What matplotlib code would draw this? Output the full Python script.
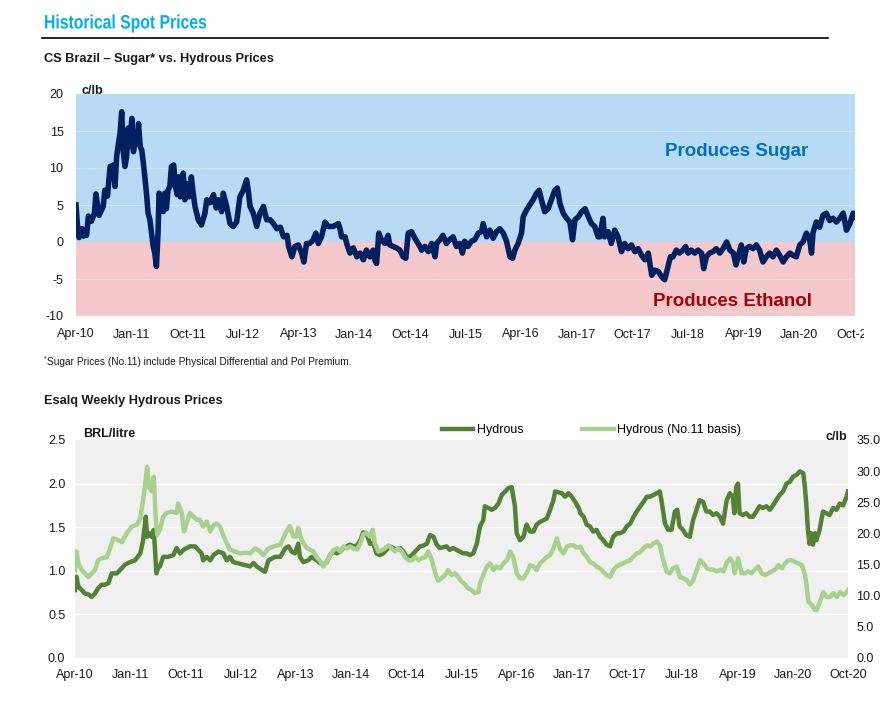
import matplotlib
matplotlib.use("Agg")
import matplotlib.pyplot as plt
import matplotlib.patheffects as pe
import pandas as pd
from matplotlib.lines import Line2D
from matplotlib.transforms import Affine2D, Bbox, TransformedBbox

plt.rcParams['font.family'] = ['Liberation Sans', 'DejaVu Sans']

# CS Brazil sugar premium over hydrous, c/lb
sugar = [
    ("2010-04-01", 5.0), ("2010-04-08", 2.3), ("2010-04-16", 0.6), ("2010-05-01", 1.8),
    ("2010-05-08", 0.8), ("2010-05-16", 1.2), ("2010-05-23", 0.9), ("2010-06-01", 3.5),
    ("2010-06-16", 2.8), ("2010-07-01", 3.9), ("2010-07-08", 6.5), ("2010-07-24", 3.6),
    ("2010-08-13", 4.8), ("2010-08-21", 7.0), ("2010-09-03", 6.2), ("2010-09-16", 10.2),
    ("2010-10-02", 10.4), ("2010-10-10", 7.5), ("2010-10-18", 11.5), ("2010-10-26", 13.1),
    ("2010-11-04", 14.7), ("2010-11-12", 17.6), ("2010-11-20", 12.2), ("2010-11-28", 10.2),
    ("2010-12-06", 11.5), ("2010-12-14", 15.4), ("2010-12-22", 12.9), ("2011-01-01", 16.7),
    ("2011-01-09", 12.2), ("2011-01-17", 13.8), ("2011-01-25", 13.3), ("2011-02-03", 16.0),
    ("2011-02-11", 12.9), ("2011-02-19", 12.4), ("2011-02-27", 10.6), ("2011-03-06", 8.8),
    ("2011-03-14", 6.6), ("2011-03-22", 3.9), ("2011-03-31", 3.0), ("2011-04-08", 1.2),
    ("2011-04-16", -0.6), ("2011-04-24", -1.5), ("2011-05-02", -3.3), ("2011-05-10", 1.2),
    ("2011-05-15", 6.6), ("2011-05-26", 5.7), ("2011-06-04", 4.1), ("2011-06-12", 6.6),
    ("2011-06-20", 4.5), ("2011-06-28", 7.0), ("2011-07-07", 7.5), ("2011-07-15", 10.2),
    ("2011-07-26", 10.4), ("2011-08-04", 7.5), ("2011-08-12", 6.4), ("2011-08-20", 8.8),
    ("2011-08-28", 6.1), ("2011-09-11", 9.3), ("2011-09-19", 5.7), ("2011-09-27", 7.9),
    ("2011-10-10", 6.1), ("2011-10-21", 8.8), ("2011-10-30", 6.6), ("2011-11-08", 4.8),
    ("2011-11-24", 3.0), ("2011-12-10", 2.3), ("2011-12-27", 3.9), ("2012-01-05", 5.7),
    ("2012-01-21", 5.3), ("2012-02-07", 6.4), ("2012-02-20", 4.6), ("2012-03-01", 5.7),
    ("2012-03-18", 4.1), ("2012-03-26", 6.6), ("2012-04-12", 4.8), ("2012-04-28", 2.5),
    ("2012-05-14", 2.1), ("2012-05-31", 2.7), ("2012-06-16", 6.1), ("2012-07-03", 7.0),
    ("2012-07-19", 8.4), ("2012-07-27", 7.0), ("2012-08-05", 4.8), ("2012-08-21", 3.9),
    ("2012-09-07", 2.1), ("2012-09-23", 3.9), ("2012-10-10", 4.8), ("2012-10-26", 3.0),
    ("2012-11-12", 3.0), ("2012-11-28", 2.5), ("2012-12-15", 1.8), ("2013-01-01", 2.0),
    ("2013-01-17", 0.7), ("2013-02-03", 0.9), ("2013-02-11", -0.6), ("2013-02-27", -2.0),
    ("2013-03-14", -0.6), ("2013-03-31", -0.4), ("2013-04-16", -1.5), ("2013-04-27", -2.7),
    ("2013-05-10", -0.2), ("2013-05-26", -0.2), ("2013-06-12", 0.3), ("2013-06-25", 1.2),
    ("2013-07-07", -0.2), ("2013-07-23", 0.7), ("2013-08-09", 2.7), ("2013-08-25", 2.1),
    ("2013-09-03", 2.1), ("2013-09-19", 2.1), ("2013-10-14", 2.5), ("2013-10-22", 1.8),
    ("2013-10-30", 0.7), ("2013-11-16", 0.7), ("2013-11-24", -0.2), ("2013-12-10", -1.5),
    ("2013-12-27", -0.8), ("2014-01-13", -2.0), ("2014-01-29", -1.5), ("2014-02-14", -2.4),
    ("2014-03-01", -1.1), ("2014-03-18", -2.0), ("2014-04-03", -1.1), ("2014-04-11", -2.4),
    ("2014-04-20", -2.9), ("2014-05-01", 1.2), ("2014-05-14", 0.3), ("2014-05-31", -0.2),
    ("2014-06-16", 0.9), ("2014-06-24", -0.4), ("2014-07-10", -0.6), ("2014-07-27", -0.8),
    ("2014-08-13", -1.1), ("2014-08-29", -2.0), ("2014-09-11", -2.2), ("2014-09-23", 1.2),
    ("2014-10-09", 1.4), ("2014-10-26", 0.5), ("2014-11-11", -0.2), ("2014-11-28", -1.1),
    ("2014-12-14", -0.6), ("2014-12-31", -1.3), ("2015-01-16", -0.2), ("2015-02-02", -2.0),
    ("2015-02-10", -0.2), ("2015-02-26", 0.3), ("2015-03-13", 0.9), ("2015-03-30", -0.2),
    ("2015-04-15", 0.3), ("2015-05-02", 0.7), ("2015-05-18", -0.6), ("2015-06-04", -0.2),
    ("2015-06-17", -1.5), ("2015-06-28", 0.1), ("2015-07-14", -0.6), ("2015-07-31", 0.1),
    ("2015-08-16", 0.3), ("2015-09-03", 1.2), ("2015-09-19", 1.4), ("2015-09-27", 2.5),
    ("2015-10-14", 0.7), ("2015-10-30", 1.6), ("2015-11-15", 0.5), ("2015-12-02", 1.4),
    ("2015-12-18", 1.8), ("2016-01-04", 1.2), ("2016-01-20", 0.1), ("2016-02-06", -2.0),
    ("2016-02-19", -2.2), ("2016-03-01", -1.1), ("2016-03-17", -0.2), ("2016-04-03", 1.2),
    ("2016-04-11", 3.4), ("2016-04-27", 4.3), ("2016-05-13", 5.0), ("2016-05-30", 5.7),
    ("2016-06-16", 6.6), ("2016-06-29", 7.0), ("2016-07-10", 5.7), ("2016-07-26", 4.1),
    ("2016-08-12", 4.5), ("2016-08-28", 5.7), ("2016-09-14", 7.0), ("2016-09-26", 7.3),
    ("2016-10-09", 5.2), ("2016-10-25", 3.9), ("2016-11-11", 3.2), ("2016-11-27", 2.7),
    ("2016-12-10", 0.3), ("2016-12-22", 3.0), ("2017-01-08", 3.4), ("2017-01-24", 4.1),
    ("2017-02-10", 4.5), ("2017-02-26", 3.4), ("2017-03-13", 2.5), ("2017-03-29", 2.1),
    ("2017-04-15", 0.7), ("2017-04-23", 0.7), ("2017-05-09", 3.2), ("2017-05-17", 0.7),
    ("2017-06-03", 1.4), ("2017-06-19", -0.2), ("2017-07-06", 1.6), ("2017-07-22", 0.7),
    ("2017-08-08", -1.3), ("2017-08-24", -0.2), ("2017-09-10", -0.9), ("2017-09-26", -0.4),
    ("2017-10-13", -1.3), ("2017-10-29", -0.9), ("2017-11-15", -1.8), ("2017-12-01", -2.4),
    ("2017-12-18", -1.5), ("2018-01-04", -4.5), ("2018-01-20", -3.8), ("2018-02-06", -4.0),
    ("2018-02-22", -4.7), ("2018-03-09", -5.1), ("2018-03-25", -3.3), ("2018-04-06", -2.0),
    ("2018-04-19", -2.0), ("2018-05-05", -1.1), ("2018-05-21", -1.5), ("2018-06-07", -1.1),
    ("2018-06-20", -0.6), ("2018-07-02", -1.5), ("2018-07-18", -1.1), ("2018-08-04", -1.5),
    ("2018-08-20", -1.1), ("2018-09-06", -1.5), ("2018-09-17", -3.6), ("2018-09-30", -2.0),
    ("2018-10-16", -1.5), ("2018-11-02", -1.3), ("2018-11-18", -0.9), ("2018-12-05", -1.5),
    ("2018-12-21", -0.9), ("2019-01-08", 0.0), ("2019-01-24", -1.1), ("2019-02-10", -1.5),
    ("2019-02-23", -3.1), ("2019-03-05", -2.0), ("2019-03-21", -0.4), ("2019-04-02", -2.7),
    ("2019-04-15", -0.9), ("2019-05-01", -0.6), ("2019-05-17", -0.9), ("2019-06-03", -0.4),
    ("2019-06-19", -1.1), ("2019-07-06", -2.7), ("2019-07-22", -2.0), ("2019-08-08", -1.5),
    ("2019-08-24", -2.0), ("2019-09-10", -1.1), ("2019-09-26", -1.8), ("2019-10-13", -2.7),
    ("2019-10-29", -2.0), ("2019-11-15", -1.5), ("2019-12-01", -1.8), ("2019-12-17", -2.0),
    ("2020-01-03", -0.4), ("2020-01-19", 0.0), ("2020-02-05", 1.2), ("2020-02-21", 0.3),
    ("2020-03-01", -1.5), ("2020-03-08", 1.2), ("2020-03-24", 2.7), ("2020-04-10", 2.0),
    ("2020-04-26", 3.6), ("2020-05-13", 3.9), ("2020-05-29", 2.9), ("2020-06-15", 3.2),
    ("2020-07-01", 2.7), ("2020-07-18", 3.2), ("2020-08-04", 3.9), ("2020-08-20", 1.6),
    ("2020-09-06", 2.5), ("2020-09-22", 3.9), ("2020-09-30", 3.4),
]

# Esalq weekly hydrous, BRL/litre
hydrous = [
    ("2010-04-01", 0.78), ("2010-04-09", 0.93), ("2010-04-17", 0.82), ("2010-05-04", 0.78),
    ("2010-05-20", 0.74), ("2010-06-06", 0.73), ("2010-06-23", 0.70), ("2010-07-09", 0.74),
    ("2010-07-25", 0.80), ("2010-08-11", 0.84), ("2010-08-28", 0.84), ("2010-09-14", 0.86),
    ("2010-09-30", 0.97), ("2010-10-25", 0.97), ("2010-11-11", 1.01), ("2010-12-05", 1.07),
    ("2010-12-30", 1.10), ("2011-01-24", 1.12), ("2011-02-19", 1.20), ("2011-03-05", 1.35),
    ("2011-03-18", 1.62), ("2011-03-25", 1.39), ("2011-04-08", 1.43), ("2011-04-16", 1.39),
    ("2011-04-27", 1.47), ("2011-05-10", 0.97), ("2011-05-18", 1.03), ("2011-05-27", 1.05),
    ("2011-06-13", 1.16), ("2011-07-07", 1.16), ("2011-08-02", 1.18), ("2011-08-18", 1.26),
    ("2011-09-05", 1.20), ("2011-09-21", 1.24), ("2011-10-07", 1.26), ("2011-10-23", 1.28),
    ("2011-11-18", 1.28), ("2011-12-04", 1.24), ("2011-12-20", 1.20), ("2011-12-28", 1.12),
    ("2012-01-15", 1.16), ("2012-02-01", 1.12), ("2012-02-17", 1.18), ("2012-03-12", 1.22),
    ("2012-04-06", 1.20), ("2012-04-23", 1.12), ("2012-05-09", 1.16), ("2012-05-25", 1.10),
    ("2012-06-12", 1.09), ("2012-07-14", 1.07), ("2012-08-17", 1.05), ("2012-09-03", 1.09),
    ("2012-09-19", 1.05), ("2012-10-14", 1.01), ("2012-10-30", 0.99), ("2012-11-16", 1.12),
    ("2012-12-19", 1.16), ("2013-01-14", 1.16), ("2013-02-08", 1.26), ("2013-02-24", 1.28),
    ("2013-03-11", 1.22), ("2013-03-27", 1.20), ("2013-04-13", 1.31), ("2013-04-21", 1.16),
    ("2013-05-08", 1.10), ("2013-06-02", 1.12), ("2013-06-18", 1.16), ("2013-07-13", 1.12),
    ("2013-07-29", 1.09), ("2013-08-16", 1.07), ("2013-09-02", 1.10), ("2013-09-18", 1.18),
    ("2013-10-05", 1.22), ("2013-10-21", 1.20), ("2013-11-07", 1.22), ("2013-11-23", 1.26),
    ("2013-12-10", 1.28), ("2013-12-26", 1.30), ("2014-01-12", 1.28), ("2014-01-29", 1.29),
    ("2014-02-15", 1.35), ("2014-03-01", 1.44), ("2014-03-17", 1.43), ("2014-04-04", 1.31),
    ("2014-04-20", 1.32), ("2014-05-06", 1.20), ("2014-05-23", 1.18), ("2014-06-09", 1.20),
    ("2014-06-25", 1.24), ("2014-07-12", 1.28), ("2014-07-28", 1.26), ("2014-08-14", 1.24),
    ("2014-08-31", 1.26), ("2014-09-17", 1.22), ("2014-10-03", 1.16), ("2014-10-19", 1.16),
    ("2014-11-06", 1.20), ("2014-11-22", 1.24), ("2014-12-08", 1.28), ("2014-12-25", 1.29),
    ("2015-01-11", 1.31), ("2015-01-27", 1.41), ("2015-02-13", 1.39), ("2015-03-01", 1.30),
    ("2015-03-16", 1.26), ("2015-04-19", 1.28), ("2015-05-05", 1.24), ("2015-05-21", 1.26),
    ("2015-06-08", 1.24), ("2015-06-24", 1.22), ("2015-07-10", 1.20), ("2015-07-27", 1.20),
    ("2015-08-13", 1.18), ("2015-08-29", 1.20), ("2015-09-16", 1.31), ("2015-10-02", 1.51),
    ("2015-10-18", 1.58), ("2015-10-26", 1.74), ("2015-11-12", 1.72), ("2015-11-29", 1.70),
    ("2015-12-15", 1.72), ("2016-01-01", 1.77), ("2016-01-18", 1.87), ("2016-02-04", 1.91),
    ("2016-02-20", 1.95), ("2016-03-07", 1.96), ("2016-03-23", 1.74), ("2016-04-01", 1.43),
    ("2016-04-17", 1.35), ("2016-05-04", 1.39), ("2016-05-20", 1.53), ("2016-06-06", 1.45),
    ("2016-06-23", 1.45), ("2016-07-09", 1.53), ("2016-07-25", 1.56), ("2016-08-12", 1.58),
    ("2016-08-28", 1.60), ("2016-09-14", 1.70), ("2016-09-30", 1.81), ("2016-10-09", 1.91),
    ("2016-10-25", 1.90), ("2016-11-11", 1.89), ("2016-11-27", 1.85), ("2016-12-14", 1.89),
    ("2016-12-30", 1.85), ("2017-01-16", 1.79), ("2017-02-03", 1.72), ("2017-02-11", 1.66),
    ("2017-02-27", 1.62), ("2017-03-14", 1.53), ("2017-03-30", 1.51), ("2017-04-16", 1.45),
    ("2017-05-02", 1.47), ("2017-05-19", 1.39), ("2017-06-05", 1.35), ("2017-06-21", 1.30),
    ("2017-07-08", 1.28), ("2017-07-24", 1.39), ("2017-08-10", 1.43), ("2017-08-26", 1.43),
    ("2017-09-13", 1.45), ("2017-09-29", 1.51), ("2017-10-16", 1.54), ("2017-11-02", 1.62),
    ("2017-11-18", 1.68), ("2017-12-05", 1.74), ("2017-12-21", 1.79), ("2018-01-07", 1.85),
    ("2018-01-23", 1.85), ("2018-02-09", 1.87), ("2018-02-26", 1.89), ("2018-03-12", 1.91),
    ("2018-03-20", 1.81), ("2018-04-07", 1.54), ("2018-04-23", 1.47), ("2018-05-09", 1.47),
    ("2018-05-26", 1.68), ("2018-06-07", 1.70), ("2018-06-18", 1.51), ("2018-07-05", 1.47),
    ("2018-07-21", 1.41), ("2018-08-08", 1.39), ("2018-08-24", 1.58), ("2018-09-10", 1.70),
    ("2018-09-26", 1.81), ("2018-10-13", 1.79), ("2018-10-29", 1.68), ("2018-11-15", 1.68),
    ("2018-12-01", 1.64), ("2018-12-18", 1.66), ("2019-01-04", 1.62), ("2019-01-20", 1.54),
    ("2019-02-07", 1.81), ("2019-02-23", 1.89), ("2019-03-09", 1.85), ("2019-03-17", 1.66),
    ("2019-03-26", 1.96), ("2019-04-04", 2.00), ("2019-04-12", 1.66), ("2019-04-28", 1.64),
    ("2019-05-15", 1.66), ("2019-06-01", 1.62), ("2019-06-17", 1.62), ("2019-07-04", 1.68),
    ("2019-07-20", 1.74), ("2019-08-06", 1.72), ("2019-08-23", 1.74), ("2019-09-09", 1.70),
    ("2019-09-25", 1.75), ("2019-10-11", 1.81), ("2019-10-28", 1.87), ("2019-11-14", 1.91),
    ("2019-12-01", 2.00), ("2019-12-17", 2.02), ("2020-01-03", 2.08), ("2020-01-19", 2.10),
    ("2020-02-05", 2.14), ("2020-02-22", 2.12), ("2020-03-01", 1.96), ("2020-03-08", 1.77),
    ("2020-03-16", 1.47), ("2020-03-24", 1.31), ("2020-04-02", 1.43), ("2020-04-10", 1.30),
    ("2020-04-19", 1.43), ("2020-04-27", 1.35), ("2020-05-13", 1.47), ("2020-05-30", 1.68),
    ("2020-06-16", 1.66), ("2020-07-02", 1.64), ("2020-07-19", 1.72), ("2020-08-05", 1.70),
    ("2020-08-21", 1.77), ("2020-09-07", 1.75), ("2020-09-24", 1.85), ("2020-10-01", 1.91),
]

# Hydrous on a No.11 basis, c/lb
hydrous_no11 = [
    ("2010-04-01", 14.1), ("2010-04-09", 17.1), ("2010-04-17", 15.3), ("2010-05-04", 14.1),
    ("2010-05-20", 13.6), ("2010-06-06", 13.0), ("2010-06-23", 13.6), ("2010-07-09", 14.1),
    ("2010-07-25", 15.7), ("2010-08-11", 16.0), ("2010-09-06", 16.2), ("2010-09-22", 17.6),
    ("2010-10-08", 19.2), ("2010-11-03", 18.9), ("2010-11-19", 18.6), ("2010-12-14", 20.0),
    ("2011-01-08", 21.1), ("2011-02-02", 21.4), ("2011-02-19", 22.4), ("2011-03-05", 25.3),
    ("2011-03-13", 27.4), ("2011-03-25", 30.7), ("2011-04-04", 27.4), ("2011-04-16", 26.8),
    ("2011-04-27", 29.1), ("2011-05-07", 22.2), ("2011-05-14", 19.8), ("2011-05-27", 20.6),
    ("2011-06-13", 22.7), ("2011-06-29", 23.3), ("2011-07-24", 23.5), ("2011-08-18", 23.3),
    ("2011-08-26", 24.8), ("2011-09-13", 23.3), ("2011-09-24", 20.3), ("2011-10-07", 21.6),
    ("2011-10-23", 23.3), ("2011-11-10", 22.7), ("2011-11-26", 22.2), ("2011-12-12", 22.2),
    ("2011-12-28", 21.1), ("2012-01-15", 21.9), ("2012-02-01", 20.3), ("2012-02-17", 21.3),
    ("2012-03-04", 21.6), ("2012-03-20", 21.1), ("2012-04-06", 19.7), ("2012-04-23", 18.4),
    ("2012-05-09", 17.4), ("2012-06-04", 17.1), ("2012-06-28", 16.8), ("2012-07-23", 16.9),
    ("2012-08-17", 16.8), ("2012-09-11", 17.6), ("2012-10-06", 17.1), ("2012-10-22", 16.5),
    ("2012-11-16", 17.6), ("2012-12-11", 17.9), ("2013-01-14", 18.2), ("2013-02-08", 20.0),
    ("2013-03-02", 21.2), ("2013-03-19", 19.5), ("2013-04-05", 19.5), ("2013-04-13", 20.9),
    ("2013-04-30", 18.9), ("2013-05-24", 17.7), ("2013-06-10", 17.4), ("2013-06-27", 17.1),
    ("2013-07-13", 16.2), ("2013-07-29", 15.6), ("2013-08-16", 14.7), ("2013-09-02", 15.5),
    ("2013-09-18", 16.5), ("2013-10-05", 17.3), ("2013-10-21", 17.6), ("2013-11-07", 17.1),
    ("2013-11-23", 17.9), ("2013-12-10", 17.6), ("2013-12-26", 17.9), ("2014-01-12", 17.6),
    ("2014-01-29", 17.4), ("2014-02-15", 18.4), ("2014-03-01", 19.8), ("2014-03-17", 20.1),
    ("2014-04-04", 19.5), ("2014-04-17", 20.6), ("2014-04-28", 18.4), ("2014-05-15", 17.1),
    ("2014-06-01", 17.3), ("2014-06-17", 17.6), ("2014-07-04", 18.1), ("2014-07-20", 17.6),
    ("2014-08-06", 17.1), ("2014-08-23", 17.6), ("2014-09-09", 17.1), ("2014-09-25", 16.2),
    ("2014-10-11", 15.7), ("2014-10-28", 15.7), ("2014-11-14", 16.2), ("2014-12-01", 15.7),
    ("2014-12-17", 16.0), ("2015-01-03", 16.2), ("2015-01-19", 17.1), ("2015-02-05", 15.7),
    ("2015-02-22", 13.6), ("2015-03-08", 12.4), ("2015-03-24", 12.8), ("2015-04-11", 13.3),
    ("2015-04-27", 14.1), ("2015-05-13", 13.3), ("2015-05-30", 13.6), ("2015-06-16", 13.0),
    ("2015-07-02", 12.3), ("2015-07-19", 11.8), ("2015-08-05", 11.2), ("2015-08-21", 10.9),
    ("2015-09-07", 10.4), ("2015-09-24", 10.6), ("2015-10-02", 12.0), ("2015-10-18", 13.3),
    ("2015-11-05", 14.7), ("2015-11-21", 15.2), ("2015-12-07", 14.1), ("2015-12-23", 14.7),
    ("2016-01-10", 14.4), ("2016-01-26", 15.2), ("2016-02-12", 15.7), ("2016-02-28", 17.1),
    ("2016-03-15", 16.2), ("2016-04-01", 13.6), ("2016-04-17", 12.8), ("2016-05-04", 12.8),
    ("2016-05-20", 13.6), ("2016-06-06", 14.9), ("2016-06-23", 14.7), ("2016-07-09", 14.1),
    ("2016-07-25", 15.2), ("2016-08-12", 15.7), ("2016-08-28", 16.2), ("2016-09-14", 16.5),
    ("2016-09-30", 17.6), ("2016-10-17", 19.2), ("2016-11-03", 17.4), ("2016-11-19", 16.8),
    ("2016-12-06", 17.9), ("2016-12-22", 18.1), ("2017-01-08", 18.1), ("2017-01-25", 17.7),
    ("2017-02-11", 17.9), ("2017-02-27", 16.8), ("2017-03-14", 16.3), ("2017-03-30", 15.4),
    ("2017-04-16", 15.2), ("2017-05-02", 14.7), ("2017-05-19", 14.4), ("2017-06-05", 13.8),
    ("2017-06-21", 13.3), ("2017-07-08", 13.0), ("2017-07-24", 14.1), ("2017-08-10", 14.7),
    ("2017-08-26", 15.0), ("2017-09-13", 15.2), ("2017-09-29", 15.5), ("2017-10-16", 15.7),
    ("2017-11-02", 16.3), ("2017-11-18", 16.8), ("2017-12-05", 17.0), ("2017-12-21", 17.6),
    ("2018-01-07", 18.1), ("2018-01-23", 17.9), ("2018-02-09", 18.4), ("2018-02-26", 18.7),
    ("2018-03-12", 18.1), ("2018-03-29", 15.7), ("2018-04-15", 13.9), ("2018-05-01", 13.6),
    ("2018-05-17", 14.4), ("2018-06-04", 14.7), ("2018-06-20", 13.0), ("2018-07-06", 12.8),
    ("2018-07-23", 12.5), ("2018-08-09", 11.8), ("2018-08-25", 12.5), ("2018-09-12", 14.2),
    ("2018-09-28", 15.7), ("2018-10-14", 15.2), ("2018-10-31", 14.4), ("2018-11-17", 14.2),
    ("2018-12-03", 14.2), ("2018-12-19", 13.9), ("2019-01-06", 14.2), ("2019-01-22", 13.9),
    ("2019-02-08", 15.4), ("2019-02-25", 16.0), ("2019-03-11", 15.2), ("2019-03-19", 13.6),
    ("2019-04-05", 16.0), ("2019-04-22", 13.6), ("2019-05-08", 13.6), ("2019-05-24", 13.9),
    ("2019-06-11", 13.6), ("2019-06-27", 14.2), ("2019-07-13", 14.7), ("2019-07-30", 13.6),
    ("2019-08-16", 13.3), ("2019-09-02", 13.6), ("2019-09-19", 13.9), ("2019-10-05", 14.2),
    ("2019-10-21", 14.9), ("2019-11-08", 14.4), ("2019-11-24", 15.2), ("2019-12-10", 15.7),
    ("2019-12-27", 15.7), ("2020-01-13", 15.4), ("2020-01-29", 15.2), ("2020-02-15", 14.9),
    ("2020-03-02", 13.3), ("2020-03-10", 11.5), ("2020-03-18", 9.1), ("2020-04-04", 8.5),
    ("2020-04-20", 7.7), ("2020-04-28", 7.7), ("2020-05-15", 9.1), ("2020-06-01", 10.6),
    ("2020-06-17", 9.8), ("2020-07-04", 9.8), ("2020-07-20", 10.4), ("2020-08-06", 9.8),
    ("2020-08-23", 10.6), ("2020-09-09", 10.1), ("2020-09-25", 10.6), ("2020-10-01", 10.9),
]

top_yticks = [-10, -5, 0, 5, 10, 15, 20]
left_yticks = [0.0, 0.5, 1.0, 1.5, 2.0, 2.5]
right_yticks = [0, 5, 10, 15, 20, 25, 30, 35]
x_start, x_end = "2010-04-01", "2020-10-01"

NAVY = "#002060"
DARK_GREEN = "#548235"
LIGHT_GREEN = "#A9D18E"
TXT = "#1a1a1a"

W, H = 895, 702
fig = plt.figure(figsize=(W / 100, H / 100), dpi=100)


def fx(px):
    return px / W


def fy(py):
    return 1 - py / H


def series(pairs):
    d, v = zip(*pairs)
    return pd.to_datetime(list(d)), list(v)


class Narrow(pe.AbstractPathEffect):
    # squeeze glyphs horizontally around a fixed left edge (no narrow font installed)
    def __init__(self, sx, x0):
        super().__init__()
        self.sx, self.x0 = sx, x0

    def draw_path(self, renderer, gc, tpath, affine, rgbFace=None):
        squeeze = Affine2D().translate(-self.x0, 0).scale(self.sx, 1).translate(self.x0, 0)
        renderer.draw_path(gc, tpath, affine + squeeze, rgbFace)


xticks = pd.date_range(x_start, x_end, freq="9MS")
xlabels = [t.strftime("%b-%y") for t in xticks]

# ---- headings
fig.text(fx(44), fy(24), "Historical Spot Prices", color="#00AEEF", fontsize=14,
         fontweight="bold", va="center", path_effects=[Narrow(0.81, 44)])
fig.add_artist(Line2D([fx(42), fx(828)], [fy(38), fy(38)], color="black", lw=1.2))
fig.text(fx(44), fy(59), "CS Brazil \u2013 Sugar* vs. Hydrous Prices", fontsize=9.2,
         fontweight="bold", va="center", color=TXT)

# ---- top chart
ax1 = fig.add_axes([fx(76), fy(316), fx(855) - fx(76), fy(94) - fy(316)])
ax1.axhspan(0, 20, color="#B7DBF5", lw=0, zorder=0)
ax1.axhspan(-10, 0, color="#F5C9CB", lw=0, zorder=0)
for g in [15, 10, 5, -5]:
    ax1.axhline(g, color="white", lw=0.8, alpha=0.35, zorder=1)
sd, sv = series(sugar)
ax1.plot(sd, sv, color=NAVY, lw=4.0, solid_joinstyle="round", zorder=3)
ax1.set_ylim(-10, 20)
ax1.set_xlim(pd.Timestamp(x_start), pd.Timestamp(x_end))
ax1.set_yticks(top_yticks)
ax1.set_yticklabels([str(t) for t in top_yticks])
ax1.set_xticks(xticks)
top_labels = ax1.set_xticklabels(xlabels)
ax1.tick_params(length=0, labelsize=9, colors=TXT, pad=9)
ax1.tick_params(axis="x", pad=9)
for s in ax1.spines.values():
    s.set_visible(False)
# last date label is cut off at the chart edge in the original
clip = TransformedBbox(Bbox([[0, 0], [fx(864), 1]]), fig.transFigure)
top_labels[-1].set_clip_on(True)
top_labels[-1].set_clip_box(clip)

fig.text(fx(737), fy(152), "Produces Sugar", color="#0070C0", fontsize=13.5,
         fontweight="bold", ha="center", va="center")
fig.text(fx(733), fy(302), "Produces Ethanol", color="#A80000", fontsize=13.5,
         fontweight="bold", ha="center", va="center")
fig.text(fx(82), fy(91), "c/lb", fontsize=9, fontweight="bold", va="center", color=TXT)

# ---- footnote & second heading
fig.text(fx(44), fy(359), "*", fontsize=5, va="center", color=TXT)
fig.text(fx(47), fy(362), "Sugar Prices (No.11) include Physical Differential and Pol Premium.",
         fontsize=7.3, va="center", color=TXT)
fig.text(fx(44), fy(401), "Esalq Weekly Hydrous Prices", fontsize=9.2,
         fontweight="bold", va="center", color=TXT)

# ---- bottom chart
ax2 = fig.add_axes([fx(75), fy(658), fx(848) - fx(75), fy(440) - fy(658)])
ax2.set_facecolor("#F0F0F0")
for g in [0.5, 1.0, 1.5, 2.0]:
    ax2.axhline(g, color="white", lw=1.0, zorder=1)
hd, hv = series(hydrous)
h1, = ax2.plot(hd, hv, color=DARK_GREEN, lw=3.2, label="Hydrous", zorder=3)
ax2.set_ylim(0, 2.5)
ax2.set_xlim(pd.Timestamp(x_start), pd.Timestamp(x_end))
ax2.set_yticks(left_yticks)
ax2.set_yticklabels([f"{t:.1f}" for t in left_yticks])
ax2.set_xticks(xticks)
ax2.set_xticklabels(xlabels)
ax2.tick_params(length=0, labelsize=9, colors=TXT, pad=7)
ax2.tick_params(axis="x", pad=8)

ax3 = ax2.twinx()
nd, nv = series(hydrous_no11)
h2, = ax3.plot(nd, nv, color=LIGHT_GREEN, lw=3.2, label="Hydrous (No.11 basis)", zorder=3)
ax3.set_ylim(0, 35)
ax3.set_yticks(right_yticks)
ax3.set_yticklabels([f"{t:.1f}" for t in right_yticks])
ax3.tick_params(length=0, labelsize=9, colors=TXT, pad=6)
for a in (ax2, ax3):
    for s in a.spines.values():
        s.set_visible(False)

fig.text(fx(83), fy(434), "BRL/litre", fontsize=9, fontweight="bold", va="center", color=TXT)
fig.text(fx(847), fy(437), "c/lb", fontsize=9, fontweight="bold", va="center", ha="right", color=TXT)

fig.legend(handles=[h1, h2], loc="center left", bbox_to_anchor=(fx(442), fy(430)),
           ncol=2, frameon=False, fontsize=9, handlelength=2.5, handletextpad=0.3,
           columnspacing=4.7, borderpad=0, borderaxespad=0)

fig.savefig("out.png", dpi=100)
